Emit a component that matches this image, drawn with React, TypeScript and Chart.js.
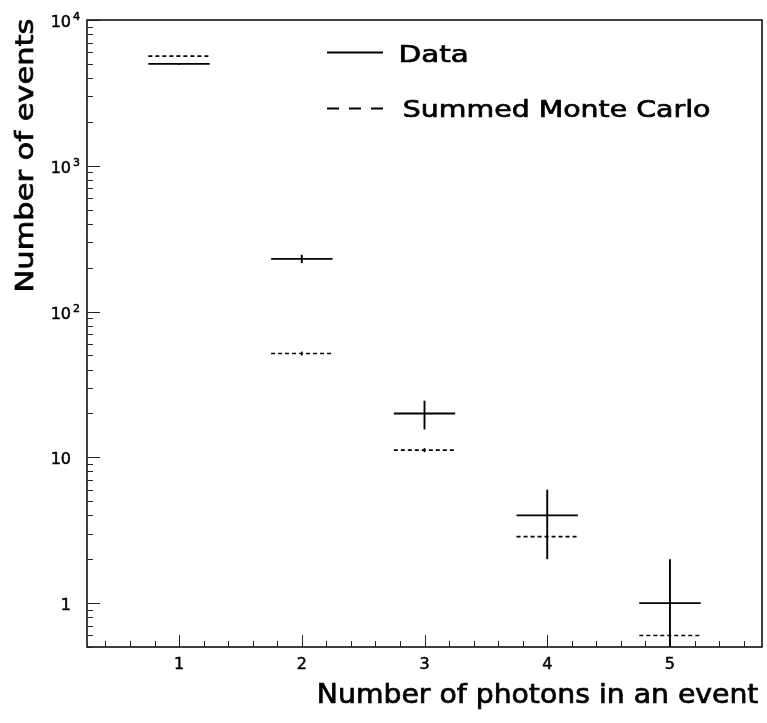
import React, { useEffect, useRef } from 'react';
import { Chart, registerables } from 'chart.js';

Chart.register(...registerables);

// ---- data ----
const categories = [1, 2, 3, 4, 5];
const dataValues = [5000, 230, 20, 4, 1];
const dataErrors = [71, 15.2, 4.47, 2, 1];
const mcValues = [5650, 51.5, 11.2, 2.86, 0.6];
const mcErrors = [60, 1.6, 0.36, 0.09, 0.02];
const binHalfWidth = 0.25;

const xTickValues = [1, 2, 3, 4, 5];
const xTickLabels = ['1', '2', '3', '4', '5'];
const yTickValues = [1, 10, 100, 1000, 10000];
const yTickBases = ['1', '10', '10', '10', '10'];
const yTickExps = ['', '', '2', '3', '4'];

const legendLabels = ['Data', 'Summed Monte Carlo'];
const xTitle = 'Number of photons in an event';
const yTitle = 'Number of events';

const FONT = '"DejaVu Sans", sans-serif';

function fitText(ctx: CanvasRenderingContext2D, text: string, x0: number, x1: number, baseline: number, size: number) {
  ctx.font = `${size}px ${FONT}`;
  ctx.textAlign = 'left';
  ctx.textBaseline = 'alphabetic';
  const m = ctx.measureText(text);
  const bl = m.actualBoundingBoxLeft;
  const br = m.actualBoundingBoxRight;
  const sx = (x1 - x0) / (bl + br);
  ctx.save();
  ctx.translate(x0 + sx * bl, baseline);
  ctx.scale(sx, 1);
  ctx.lineWidth = 0.7;
  ctx.setLineDash([]);
  ctx.strokeStyle = '#000';
  ctx.fillText(text, 0, 0);
  ctx.strokeText(text, 0, 0);
  ctx.restore();
}

function boldText(ctx: CanvasRenderingContext2D, text: string, x: number, y: number) {
  ctx.fillText(text, x, y);
  ctx.save();
  ctx.lineWidth = 0.5;
  ctx.setLineDash([]);
  ctx.strokeStyle = '#000';
  ctx.strokeText(text, x, y);
  ctx.restore();
}

const rootPlugin = {
  id: 'rootStyle',
  afterDraw(chart: any) {
    const ctx: CanvasRenderingContext2D = chart.ctx;
    const xs = chart.scales.x;
    const ys = chart.scales.y;
    const { left, right, top, bottom } = chart.chartArea;
    ctx.save();
    ctx.fillStyle = '#000';
    ctx.strokeStyle = '#000';

    // frame
    ctx.lineWidth = 1.5;
    ctx.setLineDash([]);
    ctx.strokeRect(left, top, right - left, bottom - top);

    // x ticks (inside)
    ctx.lineWidth = 1;
    ctx.strokeStyle = '#222';
    for (let k = 2; k <= 28; k++) {
      const v = k * 0.2;
      if (v <= xs.min || v >= xs.max) continue;
      const px = Math.round(xs.getPixelForValue(v)) + 0.5;
      const isMajor = Math.abs(v - Math.round(v)) < 1e-6;
      const len = isMajor ? 12 : 6;
      ctx.beginPath();
      ctx.moveTo(px, bottom);
      ctx.lineTo(px, bottom - len);
      ctx.stroke();
    }
    // y ticks (inside)
    for (let d = -1; d <= 4; d++) {
      for (let m = 1; m <= 9; m++) {
        const v = m * Math.pow(10, d);
        if (v < ys.min - 1e-9 || v > ys.max + 1e-9) continue;
        const py = Math.round(ys.getPixelForValue(v)) + 0.5;
        const len = m === 1 ? 13 : 6;
        ctx.beginPath();
        ctx.moveTo(left, py);
        ctx.lineTo(left + len, py);
        ctx.stroke();
      }
    }

    // tick labels
    ctx.fillStyle = '#000';
    ctx.font = `16px ${FONT}`;
    ctx.textBaseline = 'alphabetic';
    ctx.textAlign = 'center';
    xTickValues.forEach((v, i) => {
      const px = xs.getPixelForValue(v);
      boldText(ctx, xTickLabels[i], px, 668.5);
    });
    yTickValues.forEach((v, i) => {
      const py = ys.getPixelForValue(v);
      ctx.font = `16px ${FONT}`;
      ctx.textAlign = 'right';
      boldText(ctx, yTickBases[i], 71, py + 7);
      if (yTickExps[i]) {
        ctx.font = `11px ${FONT}`;
        ctx.textAlign = 'left';
        boldText(ctx, yTickExps[i], 73, py);
      }
    });

    // data marks
    chart.data.datasets.forEach((ds: any) => {
      ctx.save();
      ctx.beginPath();
      ctx.rect(left, top, right - left, bottom - top);
      ctx.clip();
      ctx.strokeStyle = '#000';
      ctx.lineWidth = ds.markWidth;
      ds.data.forEach((pt: any, i: number) => {
        const err = ds.errors[i];
        const py = ys.getPixelForValue(pt.y);
        const xl = xs.getPixelForValue(pt.x - binHalfWidth);
        const xr = xs.getPixelForValue(pt.x + binHalfWidth);
        const xc = xs.getPixelForValue(pt.x);
        ctx.setLineDash(ds.dash);
        ctx.beginPath();
        ctx.moveTo(xl, py);
        ctx.lineTo(xr, py);
        ctx.stroke();
        ctx.setLineDash([]);
        const lo = pt.y - err;
        const pLo = lo > 0 ? ys.getPixelForValue(lo) : bottom;
        const pHi = ys.getPixelForValue(pt.y + err);
        ctx.beginPath();
        ctx.moveTo(xc, Math.min(pLo, bottom));
        ctx.lineTo(xc, pHi);
        ctx.stroke();
      });
      ctx.restore();
    });

    // legend
    ctx.strokeStyle = '#000';
    ctx.lineWidth = 1.8;
    ctx.setLineDash([]);
    ctx.beginPath();
    ctx.moveTo(327, 52.5);
    ctx.lineTo(383, 52.5);
    ctx.stroke();
    ctx.setLineDash([12, 10]);
    ctx.beginPath();
    ctx.moveTo(327, 108.5);
    ctx.lineTo(385, 108.5);
    ctx.stroke();
    ctx.setLineDash([]);
    fitText(ctx, legendLabels[0], 401, 467, 61.7, 23.5);
    fitText(ctx, legendLabels[1], 404, 710, 117.3, 23.5);

    // axis titles
    fitText(ctx, xTitle, 319, 758, 702.7, 26.5);
    ctx.save();
    ctx.translate(33.3, 0);
    ctx.rotate(-Math.PI / 2);
    fitText(ctx, yTitle, -290, -20, 0, 25);
    ctx.restore();

    ctx.restore();
  },
};

export default function App() {
  const ref = useRef<HTMLCanvasElement | null>(null);
  useEffect(() => {
    if (!ref.current) return;
    const chart = new Chart(ref.current, {
      type: 'scatter',
      data: {
        datasets: [
          {
            label: 'Summed Monte Carlo',
            data: categories.map((c, i) => ({ x: c, y: mcValues[i] })),
            pointRadius: 0,
            showLine: false,
            errors: mcErrors,
            dash: [4, 3],
            markWidth: 1.6,
          } as any,
          {
            label: 'Data',
            data: categories.map((c, i) => ({ x: c, y: dataValues[i] })),
            pointRadius: 0,
            showLine: false,
            errors: dataErrors,
            dash: [],
            markWidth: 1.9,
          } as any,
        ],
      },
      options: {
        responsive: false,
        animation: false,
        events: [],
        layout: { padding: { left: 87, top: 20, right: 5, bottom: 76 } },
        plugins: { legend: { display: false }, tooltip: { enabled: false } },
        scales: {
          x: { type: 'linear', min: 0.25, max: 5.75, display: false },
          y: { type: 'logarithmic', min: 0.5, max: 10000, display: false },
        },
      },
      plugins: [rootPlugin],
    });
    return () => chart.destroy();
  }, []);
  return (
    <div style={{ position: 'fixed', left: 0, top: 0, width: 767, height: 723, background: '#fff' }}>
      <canvas ref={ref} width={767} height={723} style={{ width: 767, height: 723, display: 'block' }} />
    </div>
  );
}
